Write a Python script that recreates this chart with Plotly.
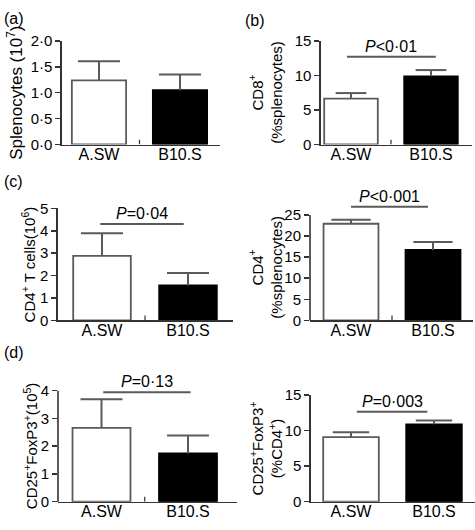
import plotly.graph_objects as go

# ---------------- data ----------------
groups = ["A.SW", "B10.S"]

splenocytes_mean = [1.24, 1.05]      # 10^7
splenocytes_sem = [0.37, 0.30]

cd8_pct_mean = [6.65, 9.88]          # % splenocytes
cd8_pct_sem = [0.80, 0.90]

cd4_count_mean = [2.88, 1.56]        # 10^6
cd4_count_sem = [1.01, 0.56]

cd4_pct_mean = [22.9, 16.7]          # % splenocytes
cd4_pct_sem = [0.95, 1.90]

treg_count_mean = [2.66, 1.74]       # 10^5
treg_count_sem = [1.03, 0.64]

treg_pct_mean = [9.09, 10.9]         # % CD4+
treg_pct_sem = [0.68, 0.55]

p_texts = ["<0·01", "=0·04", "<0·001", "=0·13", "=0·003"]
p_levels = [12.7, 4.30, 26.9, 3.94, 12.68]
p_spans = [(-0.05, 1.06), (-0.02, 0.95), (0.0, 0.94), (0.02, 1.03), (0.07, 0.92)]

ticks_a = [0, 0.5, 1.0, 1.5, 2.0]
ticks_a_text = ["0·0", "0·5", "1·0", "1·5", "2·0"]

# ---------------- layout geometry ----------------
W, H = 475, 530
FONT = "Liberation Sans, Arial, sans-serif"
AX = "#333333"
GREY = "#5a5a5a"

panels = [
    dict(mean=splenocytes_mean, sem=splenocytes_sem, ymax=2.0, tickvals=ticks_a, ticktext=ticks_a_text,
         xa=62, xb=220, c0=99, c1=180, y0=140, yt=33, cap=15, p=None,
         title="Splenocytes (10<sup>7</sup>)", tx=15, tsize=17, mid=True),
    dict(mean=cd8_pct_mean, sem=cd8_pct_sem, ymax=15, tickvals=[0, 5, 10, 15], ticktext=None,
         xa=321, xb=472, c0=351, c1=431, y0=140, yt=33, cap=11, p=0,
         title="CD8<sup>+</sup><br>(%splenocytes)", tx=266, tsize=15, mid=True),
    dict(mean=cd4_count_mean, sem=cd4_count_sem, ymax=5, tickvals=[0, 1, 2, 3, 4, 5], ticktext=None,
         xa=58, xb=233, c0=102, c1=188, y0=321.7, yt=206, cap=15, p=1,
         title="CD4<sup>+</sup> T cells(10<sup>6</sup>)", tx=28, tsize=15, mid=True),
    dict(mean=cd4_pct_mean, sem=cd4_pct_sem, ymax=25, tickvals=[0, 5, 10, 15, 20, 25], ticktext=None,
         xa=310, xb=473, c0=351, c1=433, y0=321.7, yt=212.7, cap=14, p=2,
         title="CD4<sup>+</sup><br>(%splenocytes)", tx=266, tsize=15, mid=True),
    dict(mean=treg_count_mean, sem=treg_count_sem, ymax=4, tickvals=[0, 1, 2, 3, 4], ticktext=None,
         xa=58, xb=237, c0=101.5, c1=188, y0=509, yt=394.3, cap=15, p=3,
         title="CD25<sup>+</sup>FoxP3<sup>+</sup>(10<sup>5</sup>)", tx=30, tsize=15, mid=True),
    dict(mean=treg_pct_mean, sem=treg_pct_sem, ymax=15, tickvals=[0, 5, 10, 15], ticktext=None,
         xa=311, xb=475, c0=351, c1=434, y0=509, yt=399, cap=13, p=4,
         title="CD25<sup>+</sup>FoxP3<sup>+</sup><br>(%CD4<sup>+</sup>)", tx=266, tsize=15, mid=False),
]

fig = go.Figure()
shapes = []
annotations = []
layout = {}

for i, pn in enumerate(panels):
    k = "" if i == 0 else str(i + 1)
    xname, yname = "x" + k, "y" + k
    unit = pn["c1"] - pn["c0"]
    r0 = -(pn["c0"] - pn["xa"]) / unit
    r1 = 1 + (pn["xb"] - pn["c1"]) / unit
    ppu = (pn["y0"] - pn["yt"]) / pn["ymax"]
    ytop = pn["ymax"]
    if pn["p"] is not None:
        ytop = max(ytop, p_levels[pn["p"]] * 1.04)
    dom_y0 = 1 - pn["y0"] / H
    dom_y1 = 1 - (pn["y0"] - ytop * ppu) / H

    # bars with upward error stems (no caps)
    fig.add_trace(go.Bar(
        x=groups, y=pn["mean"], xaxis=xname, yaxis=yname, width=0.67,
        marker=dict(color=["white", "black"], line=dict(color=[GREY, "black"], width=1.8)),
        error_y=dict(type="data", array=pn["sem"], arrayminus=[0, 0], symmetric=False,
                     color=GREY, thickness=2, width=0),
        showlegend=False, hoverinfo="skip",
    ))
    # caps on top of the error stems
    fig.add_trace(go.Scatter(
        x=groups, y=[m + s for m, s in zip(pn["mean"], pn["sem"])], xaxis=xname, yaxis=yname,
        mode="markers", marker=dict(symbol="line-ew", size=2 * pn["cap"],
                                    line=dict(color=GREY, width=2)),
        showlegend=False, hoverinfo="skip", cliponaxis=False,
    ))

    layout["xaxis" + k] = dict(
        domain=[pn["xa"] / W, min(pn["xb"] / W, 1)], anchor=yname, type="category",
        range=[r0, r1], showline=True, linecolor=AX, linewidth=1.6, ticks="",
        ticklabelstandoff=-5,
        showgrid=False, zeroline=False, tickfont=dict(family=FONT, size=16, color="black"),
    )
    extended = ytop > pn["ymax"]
    layout["yaxis" + k] = dict(
        domain=[dom_y0, dom_y1], anchor=xname, range=[0, ytop],
        tickvals=pn["tickvals"], ticktext=pn["ticktext"], ticks="outside", ticklen=5,
        tickwidth=1.5, tickcolor=AX, showline=not extended, linecolor=AX, linewidth=1.6,
        showgrid=False, zeroline=False, tickfont=dict(family=FONT, size=15, color="black"),
    )
    if extended:
        shapes.append(dict(type="line", xref=xname + " domain", yref=yname + " domain",
                           x0=0, x1=0, y0=0, y1=pn["ymax"] / ytop,
                           line=dict(color=AX, width=1.6)))
    if pn["mid"]:
        shapes.append(dict(type="line", xref=xname, yref=yname, x0=0.5, x1=0.5,
                           y0=0, y1=5 / ppu, line=dict(color=AX, width=1.2)))
    if pn["p"] is not None:
        j = pn["p"]
        a, b = p_spans[j]
        shapes.append(dict(type="line", xref=xname, yref=yname, x0=a, x1=b,
                           y0=p_levels[j], y1=p_levels[j], line=dict(color=GREY, width=2)))
        annotations.append(dict(xref=xname, yref=yname, x=(a + b) / 2, y=p_levels[j],
                                yanchor="bottom", xanchor="center", yshift=0, showarrow=False,
                                text="<i>P</i>" + p_texts[j],
                                font=dict(family=FONT, size=16, color="black")))
    annotations.append(dict(xref="paper", yref=yname, x=pn["tx"] / W, y=pn["ymax"] / 2,
                            xanchor="center", yanchor="middle", textangle=-90, showarrow=False,
                            text=pn["title"], font=dict(family=FONT, size=pn["tsize"], color="black")))

for lab, px, py in [("(a)", 2, 10), ("(b)", 243, 12), ("(c)", 2, 178), ("(d)", 2, 355)]:
    annotations.append(dict(xref="paper", yref="paper", x=px / W, y=1 - py / H,
                            xanchor="left", yanchor="middle", showarrow=False, text=lab,
                            font=dict(family=FONT, size=16, color="black")))

fig.update_layout(
    width=W, height=H, margin=dict(l=0, r=0, t=0, b=0),
    paper_bgcolor="white", plot_bgcolor="white",
    shapes=shapes, annotations=annotations, bargap=0, **layout,
)

fig.write_html("out.html", config={"displayModeBar": False, "staticPlot": True},
               post_script="document.body.style.margin='0px';document.body.style.overflow='hidden';")
